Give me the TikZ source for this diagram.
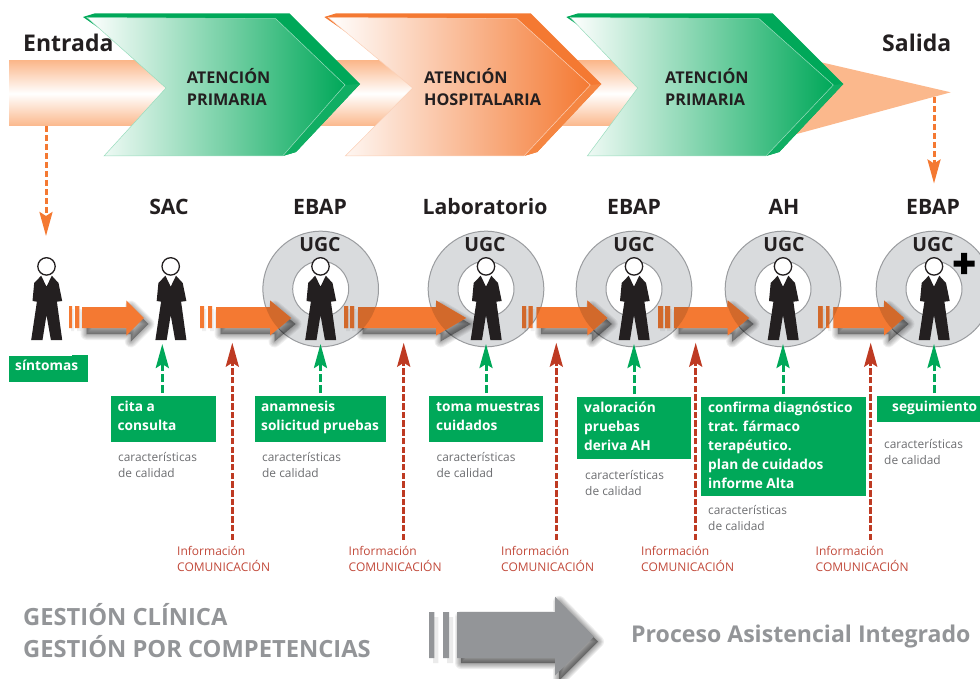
\documentclass[tikz,border=0pt]{standalone}
\usepackage{fontspec}
\setmainfont{Open Sans}
\usetikzlibrary{arrows.meta}
\definecolor{cgreen}{HTML}{00A859}
\definecolor{cgreenb}{HTML}{10AE63}
\definecolor{corange}{HTML}{F47932}
\definecolor{corangeb}{HTML}{F58642}
\definecolor{cdarkor}{HTML}{D2692B}
\definecolor{cpeach}{HTML}{FBB88C}
\definecolor{cred}{HTML}{BE3A22}
\definecolor{credtext}{HTML}{C1493A}
\definecolor{cgraytext}{HTML}{6D6E71}
\definecolor{cdark}{HTML}{231F20}
\definecolor{cring}{HTML}{D9DBDD}
\definecolor{cringline}{HTML}{9A9C9F}
\definecolor{cbig}{HTML}{939598}
\tikzset{
  chevtext/.style={anchor=base west,align=left,text=cdark,font=\bfseries\fontsize{16.2}{21.3}\selectfont,inner sep=0pt},
  stagetext/.style={anchor=base,text=cdark,font=\bfseries\fontsize{21.2}{24}\selectfont,inner sep=0pt},
  endtext/.style={anchor=base west,text=cdark,font=\bfseries\fontsize{23}{30}\selectfont,inner sep=0pt},
  ugctext/.style={anchor=base,text=cdark,font=\bfseries\fontsize{19.5}{24}\selectfont,inner sep=0pt},
  greenbox/.style={anchor=north west,fill=cgreen,inner sep=0pt},
  boxtext/.style={anchor=base west,align=left,text=white,inner sep=0pt,font=\bfseries\fontsize{13.7}{19}\selectfont},
  qualtext/.style={anchor=west,align=left,text=cgraytext,inner sep=0pt,font=\fontsize{11.9}{16}\selectfont},
  infotext/.style={anchor=west,align=left,text=credtext,inner sep=0pt,font=\fontsize{12}{16}\selectfont},
  bigtext/.style={anchor=west,align=left,text=cbig,inner sep=0pt,font=\bfseries\fontsize{23.7}{32}\selectfont},
  greenconn/.style={draw=cgreen,line width=3pt,dash pattern=on 8pt off 3pt,-{Stealth[length=24pt,width=13pt,inset=4pt]},shorten <=3pt},
  redconn/.style={draw=cred,line width=3pt,dash pattern=on 6.5pt off 2.2pt,-{Stealth[length=24pt,width=13pt,inset=4pt]}},
  orangeconn/.style={draw=corange,line width=3pt,dash pattern=on 6.5pt off 2.5pt,-{Stealth[length=24pt,width=13pt,inset=4pt]}},
}
% chevron: #1 dx, #2 colour, #3 lower strip colour, #4 face outline, #5 gradient end, #6 notch x, #7 face tip x
\newcommand{\chevron}[7]{%
  \fill[#2] (83+#1,17) -- (95+#1,13.3) -- (289.3+#1,13.3) -- (360+#1,84) -- (296+#1,152) -- (282.7+#1,156) -- cycle;
  \fill[#3] (#7+#1,85) -- (360+#1,84) -- (296+#1,152) -- (282.7+#1,156) -- cycle;
  \shadedraw[left color=white,right color=#5,draw=#4,line width=.5pt]
    (87+#1,17.5) -- (275.7+#1,18.7) -- (#7+#1,85) -- (282.7+#1,156) -- (104+#1,156) -- (#6+#1,88) -- cycle;
}
\newcommand{\flowshadow}[7]{%
  \begin{scope}[shift={(4.5,6)}]
    \foreach \w in {12,10,8,6,4,2,0.1}{
      \draw[black,fill=black,opacity=.06,line width=\w pt,line join=round] (#5,307) -- (#6,307) -- (#6,300.5) -- (#7,318) -- (#6,335.5) -- (#6,328) -- (#5,328) -- cycle;
    }
  \end{scope}
  \fill[black,opacity=.06] (#1+2,309) rectangle (#2+2,331) (#3+2,309) rectangle (#4+2,331);
}
\newcommand{\flowarrow}[7]{%
  \fill[corange] (#1,306) rectangle (#2,328) (#3,306) rectangle (#4,328);
  \fill[corange] (#5,307) -- (#6,307) -- (#6,300.5) -- (#7,318) -- (#6,335.5) -- (#6,328) -- (#5,328) -- cycle;
}
\newcommand{\flowdark}[8]{%
  \begin{scope}
    \clip (#8,289) circle (57.8);
    \fill[cdarkor] (#1,306) rectangle (#2,328) (#3,306) rectangle (#4,328);
    \fill[cdarkor] (#5,307) -- (#6,307) -- (#6,300.5) -- (#7,318) -- (#6,335.5) -- (#6,328) -- (#5,328) -- cycle;
  \end{scope}
}
\newcommand{\ring}[1]{%
  \fill[cring,draw=cringline,line width=1pt] (#1,289) circle (57.8);
  \fill[white,draw=cringline,line width=1pt] (#1,289) circle (28);
}
\newcommand{\person}[2]{%
  \fill[cdark] (#2-5.3,275.7) -- (#2,286.7) -- (#2+5.3,275.7) -- (#2+12,283) -- (#2+15.7,301) -- (#2+10.4,301.7)
    -- (#2+15.7,340) -- (#2+4.4,340) -- (#2,315) -- (#2-4,340) -- (#2-15.3,340) -- (#2-9.6,301.7) -- (#2-14,301) -- (#2-12.3,283) -- cycle;
  \node[circle,draw=cdark,fill=white,line width=1.3pt,minimum size=17.4pt,inner sep=0pt] (#1) at (#2,266.4) {};
  \coordinate (#1f) at (#2,344);
}
\begin{document}
\begin{tikzpicture}[x=1pt,y=-1pt]
\useasboundingbox (0,0) rectangle (980,679);
\clip (0,0) rectangle (980,679);
% band and exit
\shade[top color=cpeach,bottom color=cpeach,middle color=white] (9,61) rectangle (642,126);
\fill[cpeach] (790,55) -- (820,62) -- (950.7,92.3) -- (796.7,134) -- (790,135) -- cycle;
\chevron{0}{cgreen}{cgreenb}{cgreen!40}{cgreen}{166}{345}
\chevron{241.3}{corange}{corangeb}{corange!35}{corange}{171.4}{349}
\chevron{483.3}{cgreen}{cgreenb}{cgreen!40}{cgreen}{154.4}{350}
\node[chevtext] (ch1) at (186.7,105.3) {ATENCIÓN\\PRIMARIA};
\node[chevtext] (ch2) at (424,105.3) {ATENCIÓN\\HOSPITALARIA};
\node[chevtext] (ch3) at (665,105.3) {ATENCIÓN\\PRIMARIA};
\node[endtext] (entrada) at (23,51.7) {Entrada};
\node[endtext] (salida) at (882,51.7) {Salida};
% headings
\node[stagetext] (h2) at (169,215) {SAC};
\node[stagetext] (h3) at (320,215) {EBAP};
\node[stagetext] (h4) at (485,215) {Laboratorio};
\node[stagetext] (h5) at (634,215) {EBAP};
\node[stagetext] (h6) at (784,215) {AH};
\node[stagetext] (h7) at (933,215) {EBAP};
% rings
\ring{320.7}\ring{486}\ring{634}\ring{783}\ring{934}
\node[ugctext] (u3) at (320,251.7) {UGC};
\node[ugctext] (u4) at (485,251.7) {UGC};
\node[ugctext] (u5) at (634,251.7) {UGC};
\node[ugctext] (u6) at (784,251.7) {UGC};
\node[ugctext] (u7) at (933,251.7) {UGC};
\fill[black] (961,253) rectangle (967,274) (953.5,260.5) rectangle (974.5,266.5);
% flow arrows
\flowshadow{69}{72}{75}{79.3}{82}{126.3}{144}
\flowshadow{200}{204}{208}{212}{216}{270}{291}
\flowshadow{344}{348}{350}{354}{358}{436}{466}
\flowshadow{522}{526}{528.7}{532.7}{536.7}{587.3}{607.3}
\flowshadow{658}{663}{665}{670}{674}{727.7}{749}
\flowshadow{818}{822.7}{826}{829.3}{833.3}{884}{904}
\flowarrow{69}{72}{75}{79.3}{82}{126.3}{144}
\flowarrow{200}{204}{208}{212}{216}{270}{291}
\flowarrow{344}{348}{350}{354}{358}{436}{466}
\flowarrow{522}{526}{528.7}{532.7}{536.7}{587.3}{607.3}
\flowarrow{658}{663}{665}{670}{674}{727.7}{749}
\flowarrow{818}{822.7}{826}{829.3}{833.3}{884}{904}
\flowdark{200}{204}{208}{212}{216}{270}{291}{320.7}
\flowdark{344}{348}{350}{354}{358}{436}{466}{320.7}
\flowdark{344}{348}{350}{354}{358}{436}{466}{486}
\flowdark{522}{526}{528.7}{532.7}{536.7}{587.3}{607.3}{486}
\flowdark{522}{526}{528.7}{532.7}{536.7}{587.3}{607.3}{634}
\flowdark{658}{663}{665}{670}{674}{727.7}{749}{634}
\flowdark{658}{663}{665}{670}{674}{727.7}{749}{783}
\flowdark{818}{822.7}{826}{829.3}{833.3}{884}{904}{783}
\flowdark{818}{822.7}{826}{829.3}{833.3}{884}{904}{934}
% persons
\person{p1}{46.5}
\person{p2}{170.7}
\person{p3}{320.5}
\person{p4}{486}
\person{p5}{634}
\person{p6}{783}
\person{p7}{934}
% green boxes
\node[greenbox,minimum width=79pt,minimum height=26pt] (b1) at (9,356) {};
\fill[cgreen] (72,355) rectangle (88,357);
\node[greenbox,minimum width=105pt,minimum height=46pt] (b2) at (111,396) {};
\node[greenbox,minimum width=131pt,minimum height=46pt] (b3) at (255,396) {};
\node[greenbox,minimum width=114pt,minimum height=46pt] (b4) at (429,396) {};
\node[greenbox,minimum width=114pt,minimum height=62pt] (b5) at (577,397) {};
\node[greenbox,minimum width=165pt,minimum height=99pt] (b6) at (701,397) {};
\node[greenbox,minimum width=103pt,minimum height=26pt] (b7) at (877,396) {};
\node[boxtext] (t1) at (15,370.7) {síntomas};
\node[boxtext] (t2) at (117.5,430) {cita a\\consulta};
\node[boxtext] (t3) at (261,430) {anamnesis\\solicitud pruebas};
\node[boxtext] (t4) at (436,430) {toma muestras\\cuidados};
\node[boxtext] (t5) at (584,450) {valoración\\pruebas\\deriva AH};
\node[boxtext] (t6) at (708,488.7) {confirma diagnóstico\\trat. fármaco\\terapéutico.\\plan de cuidados\\informe Alta};
\node[boxtext] (t7) at (892,411) {seguimiento};
% quality text
\node[qualtext] (q2) at (118,464.5) {características\\de calidad};
\node[qualtext] (q3) at (262,464.5) {características\\de calidad};
\node[qualtext] (q4) at (436.5,464.5) {características\\de calidad};
\node[qualtext] (q5) at (585,482.5) {características\\de calidad};
\node[qualtext] (q6) at (708,517.5) {características\\de calidad};
\node[qualtext] (q7) at (884,451.5) {características\\de calidad};
% info text
\node[infotext] (i1) at (177,559) {Información\\COMUNICACIÓN};
\node[infotext] (i2) at (348.5,559) {Información\\COMUNICACIÓN};
\node[infotext] (i3) at (501,559) {Información\\COMUNICACIÓN};
\node[infotext] (i4) at (641,559) {Información\\COMUNICACIÓN};
\node[infotext] (i5) at (815.5,559) {Información\\COMUNICACIÓN};
% connectors
\coordinate (r1a) at (232.3,540); \coordinate (r1b) at (232.3,342.7);
\coordinate (r2a) at (403.7,540); \coordinate (r2b) at (403.7,342.7);
\coordinate (r3a) at (556.3,540); \coordinate (r3b) at (556.3,342.7);
\coordinate (r4a) at (695.7,540); \coordinate (r4b) at (695.7,342.7);
\coordinate (r5a) at (870.7,540); \coordinate (r5b) at (870.7,342.7);
\draw[redconn] (r1a) -- (r1b);
\draw[redconn] (r2a) -- (r2b);
\draw[redconn] (r3a) -- (r3b);
\draw[redconn] (r4a) -- (r4b);
\draw[redconn] (r5a) -- (r5b);
\coordinate (g2) at (162.3,344);
\draw[greenconn] (b2.north -| g2) -- (g2);
\draw[greenconn] (b3.north -| p3f) -- (p3f);
\draw[greenconn] (b4.north -| p4f) -- (p4f);
\draw[greenconn] (b5.north -| p5f) -- (p5f);
\draw[greenconn] (b6.north -| p6f) -- (p6f);
\draw[greenconn] (b7.north -| p7f) -- (p7f);
\coordinate (oa) at (46,126); \coordinate (ob) at (46,236);
\draw[orangeconn] (oa) -- (ob);
\coordinate (sa) at (934,97); \coordinate (sb) at (934,183.5);
\draw[orangeconn] (sa) -- (sb);
% bottom
\node[bigtext] (g1) at (23,631) {GESTIÓN CLÍNICA\\GESTIÓN POR COMPETENCIAS};
\begin{scope}[shift={(4,5)}]
  \foreach \w in {12,10,8,6,4,2,0.1}{
    \draw[black,fill=black,opacity=.065,line width=\w pt,line join=round] (457,612) -- (555,612) -- (555,596.7) -- (594,636.7) -- (555,675.7) -- (555,658) -- (457,658) -- cycle;
  }
  \fill[black,opacity=.08] (429,612) rectangle (434.3,658) (443,612) rectangle (449,658);
\end{scope}
\fill[cbig] (429,612) rectangle (434.3,658) (443,612) rectangle (449,658);
\fill[cbig] (457,612) -- (555,612) -- (555,596.7) -- (594,636.7) -- (555,675.7) -- (555,658) -- (457,658) -- cycle;
\node[anchor=base west,text=cbig,inner sep=0pt,font=\bfseries\fontsize{23.1}{30}\selectfont] (pai) at (631,642) {Proceso Asistencial Integrado};
\end{tikzpicture}
\end{document}
